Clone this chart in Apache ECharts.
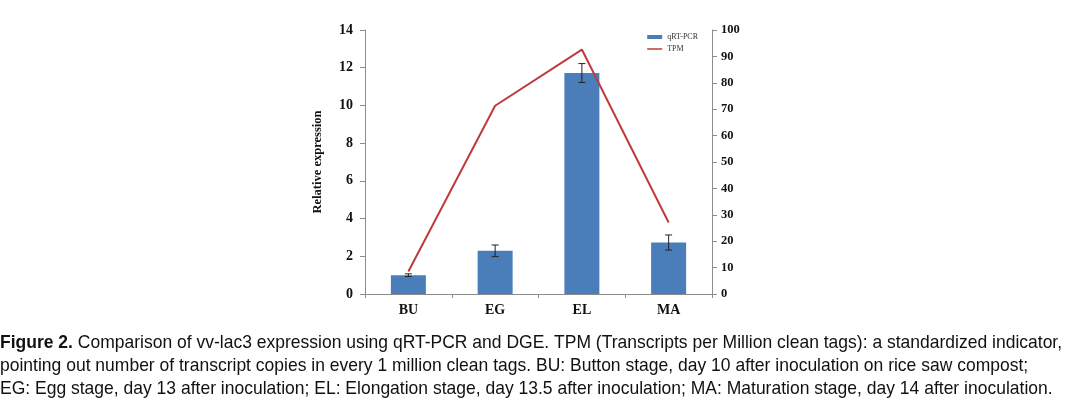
<!DOCTYPE html>
<html><head><meta charset="utf-8">
<script src="https://cdn.jsdelivr.net/npm/echarts@6/dist/echarts.min.js"></script>
<style>html,body{margin:0;padding:0;background:#fff}#c{width:1069px;height:403px}</style>
</head><body><div id="c"></div>
<script>
const categories = ['BU', 'EG', 'EL', 'MA'];
const qpcr = [1.0, 2.29, 11.72, 2.73];
const qpcrErr = [0.07, 0.31, 0.5, 0.4];
const tpm = [8.5, 71.3, 92.6, 27.1];
const leftTicks = [0, 14, 2];
const rightTicks = [0, 100, 10];
const caption = [
  ['Figure 2.', ' Comparison of vv-lac3 expression using qRT-PCR and DGE. TPM (Transcripts per Million clean tags): a standardized indicator,'],
  ['', 'pointing out number of transcript copies in every 1 million clean tags. BU: Button stage, day 10 after inoculation on rice saw compost;'],
  ['', 'EG: Egg stage, day 13 after inoculation; EL: Elongation stage, day 13.5 after inoculation; MA: Maturation stage, day 14 after inoculation.']
];

const chart = echarts.init(document.getElementById('c'));
const serif = '"Liberation Serif", "DejaVu Serif", serif';
const axisStyle = {lineStyle: {color: '#8c8c8c', width: 1}};
const errData = qpcr.map((v, i) => [i, v - qpcrErr[i], v + qpcrErr[i]]);
const capFont = '"Liberation Sans", sans-serif';

chart.setOption({
  animation: false,
  grid: {left: 365, right: 357, top: 30, bottom: 109},
  legend: {
    right: 366, top: 28, orient: 'vertical', itemGap: 4,
    itemWidth: 15, itemHeight: 4,
    textStyle: {fontFamily: serif, fontSize: 8, color: '#333'},
    data: [{name: 'qRT-PCR', icon: 'rect'}, {name: 'TPM', icon: 'path://M0,0H15V1.5H0Z'}]
  },
  xAxis: {
    type: 'category', data: categories,
    axisLine: axisStyle, axisTick: {show: true, length: 4, lineStyle: {color: '#8c8c8c'}},
    axisLabel: {fontFamily: serif, fontWeight: 'bold', fontSize: 14, color: '#111', margin: 9}
  },
  yAxis: [{
    type: 'value', min: leftTicks[0], max: leftTicks[1], interval: leftTicks[2],
    name: 'Relative expression', nameLocation: 'middle', nameGap: 41, nameRotate: 90,
    nameTextStyle: {fontFamily: serif, fontWeight: 'bold', fontSize: 12.5, color: '#111'},
    axisLine: {show: true, lineStyle: {color: '#8c8c8c'}},
    axisTick: {show: true, length: 5, lineStyle: {color: '#8c8c8c'}},
    axisLabel: {fontFamily: serif, fontWeight: 'bold', fontSize: 14, color: '#111', margin: 12},
    splitLine: {show: false}
  }, {
    type: 'value', min: rightTicks[0], max: rightTicks[1], interval: rightTicks[2],
    position: 'right',
    axisLine: {show: true, lineStyle: {color: '#8c8c8c'}},
    axisTick: {show: true, length: 5, lineStyle: {color: '#8c8c8c'}},
    axisLabel: {fontFamily: serif, fontWeight: 'bold', fontSize: 12.5, color: '#111', margin: 9},
    splitLine: {show: false}
  }],
  series: [{
    name: 'qRT-PCR', type: 'bar', data: qpcr, barWidth: 35,
    itemStyle: {color: '#4a7ebb'}
  }, {
    type: 'custom', data: errData, z: 5,
    renderItem: (params, api) => {
      const x = api.value(0);
      const lo = api.coord([x, api.value(1)]);
      const hi = api.coord([x, api.value(2)]);
      const w = 3.5;
      const s = {stroke: '#222', lineWidth: 1};
      return {type: 'group', children: [
        {type: 'line', shape: {x1: lo[0], y1: lo[1], x2: hi[0], y2: hi[1]}, style: s},
        {type: 'line', shape: {x1: lo[0]-w, y1: lo[1], x2: lo[0]+w, y2: lo[1]}, style: s},
        {type: 'line', shape: {x1: hi[0]-w, y1: hi[1], x2: hi[0]+w, y2: hi[1]}, style: s}
      ]};
    }
  }, {
    name: 'TPM', type: 'line', yAxisIndex: 1, data: tpm, showSymbol: false, symbol: 'none',
    lineStyle: {color: '#be3a3c', width: 2}, itemStyle: {color: '#be3a3c'}, z: 6
  }],
  graphic: caption.map((ln, i) => ({
    type: 'text', left: 0, top: 333 + i * 23,
    scaleY: 1.1, scaleX: 1.0, originY: 0,
    style: {
      text: (ln[0] ? '{b|' + ln[0] + '}' : '') + ln[1],
      font: '17.5px ' + capFont, fill: '#111',
      rich: {b: {fontWeight: 'bold', fontSize: 17.5, fontFamily: capFont, fill: '#111'}}
    }
  }))
});
</script></body></html>
